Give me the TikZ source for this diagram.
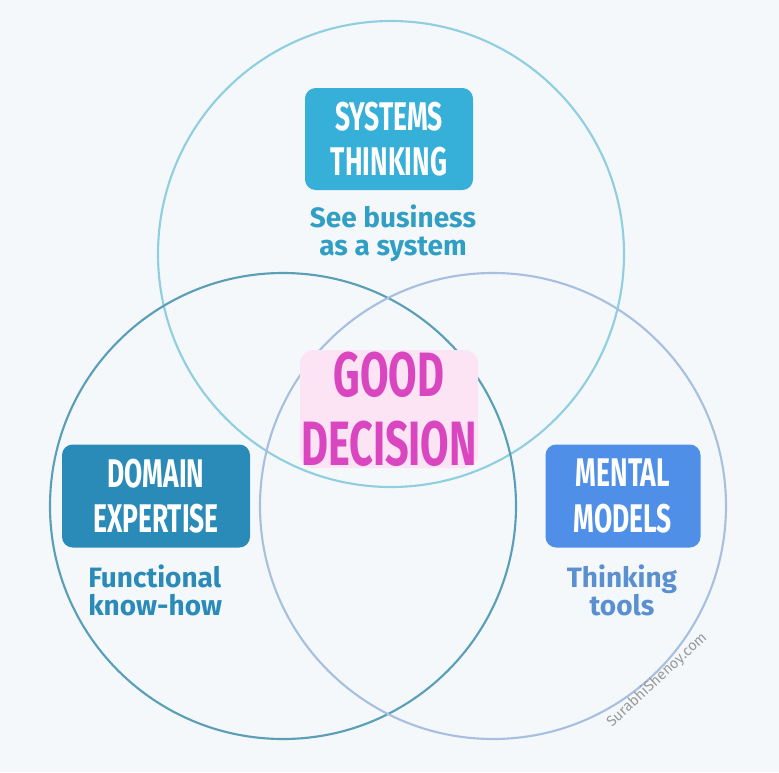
\documentclass[tikz,border=0pt]{standalone}
\usepackage{fontspec}
\setmainfont{Fira Sans}
\usepackage{graphicx}
\definecolor{bgcol}{HTML}{F5F8FB}
\definecolor{topcol}{HTML}{36AFD9}
\definecolor{leftcol}{HTML}{2A8BB8}
\definecolor{rightcol}{HTML}{4F8FE8}
\definecolor{pinkcol}{HTML}{D946C0}
\definecolor{pinkbg}{HTML}{FCE4F5}
\newcommand{\narrow}[1]{\scalebox{0.66}[1]{#1}}
\tikzset{
  ring/.style={line width=1.6pt},
  tag/.style={rounded corners=8pt, text=white, font=\fontsize{30}{34}\selectfont\bfseries, align=center, inner sep=0pt},
  sub/.style={font=\fontsize{21}{21}\selectfont\bfseries, align=center, inner sep=0pt}
}
\begin{document}
\begin{tikzpicture}[x=0.75pt,y=0.75pt,yscale=-1,xscale=1]
\fill[bgcol] (0,0) rectangle (779,772);
\useasboundingbox (0,0) rectangle (779,772);

%circles
\draw[ring, color={rgb,255:red,143;green,207;blue,223}] (391,254) circle (233);
\draw[ring, color={rgb,255:red,90;green,159;blue,184}] (283,506) circle (233);
\draw[ring, color={rgb,255:red,168;green,192;blue,224}] (493,506) circle (233);

%labels
\node[tag, fill=topcol, minimum width=168*0.75pt, minimum height=102*0.75pt] (systems) at (389,139) {\narrow{SYSTEMS}\\\narrow{THINKING}};
\node[sub, text=topcol!90!black] (systemsub) at (393,233) {See business\\as a system};

\node[tag, fill=leftcol, minimum width=188*0.75pt, minimum height=103*0.75pt] (domain) at (156,496) {\narrow{DOMAIN}\\\narrow{EXPERTISE}};
\node[sub, text=leftcol, align=left, anchor=west] (domainsub) at (88,590) {Functional\\know-how};

\node[tag, fill=rightcol, minimum width=155*0.75pt, minimum height=103*0.75pt] (mental) at (623,496) {\narrow{MENTAL}\\\narrow{MODELS}};
\node[sub, text={rgb,255:red,90;green,143;blue,208}] (mentalsub) at (622,590) {Thinking\\tools};

\node[rounded corners=10pt, fill=pinkbg, text=pinkcol, font=\fontsize{47}{52}\selectfont\bfseries, align=center, inner sep=0pt, minimum width=178*0.75pt, minimum height=118*0.75pt] (good) at (389,409) {\narrow{GOOD}\\\narrow{DECISION}};

\node[rotate=43, text=gray!80, font=\fontsize{11}{12}\selectfont, inner sep=0pt] (mark) at (657,680) {SurabhiShenoy.com};
\end{tikzpicture}
\end{document}
